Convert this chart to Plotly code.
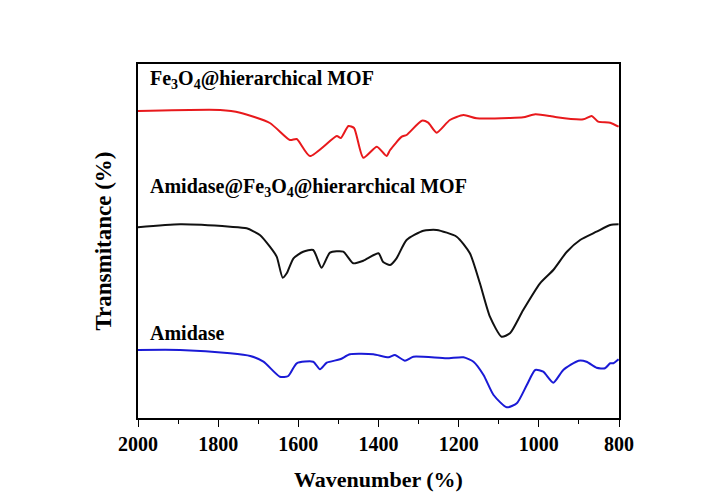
import plotly.graph_objects as go

# Wavenumber (cm-1) and relative transmittance readings (arbitrary units)
wn_fe = [2000, 1795, 1745, 1671, 1621, 1604, 1571, 1504, 1494, 1475, 1461, 1438, 1404, 1380, 1371,
         1342, 1330, 1292, 1276, 1255, 1222, 1188, 1155, 1072, 1039, 1009, 972, 955, 889, 868, 852, 822, 801]
t_fe = [307, 308, 305.3, 295, 278, 279, 262, 282, 280, 292, 290, 260.3, 271.3, 262, 268,
        281.3, 283, 297.3, 295.3, 285.3, 298, 303, 299.7, 300, 300.7, 303.7, 302, 300.7, 298.7, 302, 296.3, 295.3, 291.3]

wn_am_fe = [2000, 1895, 1770, 1729, 1696, 1671, 1654, 1639, 1629, 1612, 1588, 1563, 1542, 1521, 1488,
            1463, 1438, 1400, 1389, 1371, 1355, 1330, 1288, 1255, 1205, 1172, 1147, 1122, 1093, 1072,
            1039, 997, 964, 930, 897, 856, 822, 801]
t_am_fe = [190.7, 193.7, 191.3, 189.7, 183, 171.3, 161.3, 140.3, 144.7, 159.7, 166.3, 168, 150.3, 165.3, 166.3,
           154.7, 157.3, 164.7, 156.3, 153, 159.7, 178, 187.3, 188, 181.3, 164.7, 134.7, 101.3, 81.3, 84.7,
           108, 134.7, 148, 166.3, 178, 186.3, 193, 193.7]

wn_am = [2000, 1895, 1770, 1720, 1687, 1646, 1625, 1604, 1563, 1546, 1529, 1496, 1471, 1413, 1375,
         1359, 1334, 1313, 1230, 1188, 1163, 1138, 1113, 1080, 1055, 1030, 1009, 989, 964, 939,
         901, 881, 856, 835, 822, 814, 801]
t_am = [68, 68, 64.7, 62, 56.3, 41.3, 42, 54.7, 56.3, 48.7, 55.3, 58.7, 63.7, 63.7, 60.7,
        63, 57.3, 61.3, 59.7, 60.7, 56.3, 43, 23, 10.7, 14.7, 33, 48, 46.3, 35.3, 48,
        57.3, 56.3, 50.3, 49.7, 54.7, 54.7, 58.7]

labels = ["Fe<sub>3</sub>O<sub>4</sub>@hierarchical MOF",
          "Amidase@Fe<sub>3</sub>O<sub>4</sub>@hierarchical MOF",
          "Amidase"]
tick_vals = [2000, 1800, 1600, 1400, 1200, 1000, 800]

FONT = "Liberation Serif"

fig = go.Figure()
for xs, ys, col in [(wn_fe, t_fe, "#e8191c"), (wn_am_fe, t_am_fe, "#111111"), (wn_am, t_am, "#1a1ad6")]:
    fig.add_trace(go.Scatter(x=xs, y=ys, mode="lines", line=dict(color=col, width=2, shape="spline", smoothing=0.6),
                             showlegend=False, hoverinfo="skip"))

label_pos = [(0.02, 0.955), (0.02, 0.65), (0.02, 0.24)]
for txt, (px, py) in zip(labels, label_pos):
    fig.add_annotation(text=f"<b>{txt}</b>", xref="paper", yref="paper", x=px, y=py, xanchor="left", yanchor="middle",
                       showarrow=False, font=dict(family=FONT, size=20, color="black"))

fig.update_layout(
    width=703, height=492,
    margin=dict(l=138, r=84, t=64, b=74),
    paper_bgcolor="white", plot_bgcolor="white",
    font=dict(family=FONT, color="black"),
)
fig.update_xaxes(
    range=[2000, 800], tickvals=tick_vals, ticktext=[f"<b>{v}</b>" for v in tick_vals],
    tickfont=dict(family=FONT, size=20, color="black"), automargin=False,
    ticks="outside", ticklen=7, tickwidth=1.3, tickcolor="black",
    minor=dict(dtick=100, ticks="outside", ticklen=4, tickwidth=1.2, tickcolor="black"),
    showline=True, linecolor="black", linewidth=1.5, mirror=True, showgrid=False, zeroline=False,
    title=dict(text="<b>Wavenumber (%)</b>", font=dict(family=FONT, size=22, color="black"), standoff=18),
)
fig.update_yaxes(
    range=[0, 354], showticklabels=False, ticks="", automargin=False,
    showline=True, linecolor="black", linewidth=1.5, mirror=True, showgrid=False, zeroline=False,
    title=dict(text="<b>Transmitance (%)</b>", font=dict(family=FONT, size=23, color="black"), standoff=18),
)

fig.write_html("out.html")
